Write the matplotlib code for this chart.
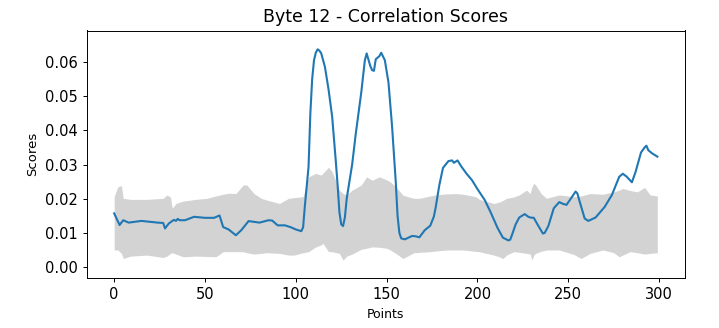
import matplotlib
matplotlib.use("Agg")
import matplotlib.pyplot as plt

# Correlation score per sample point
line_points = [0, 3, 5, 8, 15, 24, 27, 28, 30, 32, 33, 34, 35, 36, 39, 44, 50, 55, 58,
               60, 63, 67, 70, 74, 80, 85, 87, 90, 94, 97, 100, 103, 104, 105, 107, 108,
               109, 110, 111, 112, 113, 114, 116, 118, 120, 122, 123, 124, 125, 126, 127,
               128, 131, 133, 136, 138, 139, 141, 142, 143, 144, 146, 147, 149, 151, 153,
               155, 156, 157, 158, 160, 164, 166, 168, 171, 174, 176, 177, 179, 181, 184,
               186, 187, 189, 191, 194, 197, 200, 204, 207, 211, 214, 217, 218, 219, 221,
               223, 226, 228, 229, 231, 233, 236, 237, 239, 242, 245, 247, 249, 252, 254,
               255, 256, 258, 259, 261, 265, 270, 274, 278, 280, 282, 285, 287, 290, 292,
               293, 294, 296, 299]
scores = [0.0157, 0.0123, 0.0137, 0.0130, 0.0135, 0.0130, 0.0129, 0.0113, 0.0127, 0.0135,
          0.0138, 0.0135, 0.0141, 0.0137, 0.0137, 0.0147, 0.0144, 0.0144, 0.0151,
          0.0117, 0.0110, 0.0093, 0.0108, 0.01345, 0.0130, 0.0137, 0.0136, 0.0122, 0.0122,
          0.0117, 0.0110, 0.0105, 0.0116, 0.0180, 0.0293, 0.0450,
          0.0550, 0.0605, 0.0627, 0.0637, 0.0633, 0.0625, 0.0586, 0.0520, 0.0440, 0.0310,
          0.0240, 0.0160, 0.0125, 0.0120, 0.0145,
          0.0200, 0.0300, 0.0390, 0.0510, 0.0605, 0.0625, 0.0588, 0.0576, 0.0574, 0.0608,
          0.0617, 0.0627, 0.0605, 0.0540, 0.0410,
          0.0250, 0.0150, 0.0100, 0.0084, 0.0081, 0.0091, 0.0090, 0.0087, 0.0108, 0.0121,
          0.0148, 0.0175, 0.0240, 0.0290, 0.0310,
          0.0312, 0.0305, 0.0312, 0.0295, 0.0273, 0.0254, 0.0228, 0.0196, 0.0163, 0.0115,
          0.0086, 0.0078, 0.0080, 0.0094, 0.0125,
          0.0145, 0.0155, 0.0147, 0.0145, 0.0144, 0.0125, 0.0098, 0.0100, 0.0120, 0.0172,
          0.0190, 0.0185, 0.0182, 0.0205, 0.0221,
          0.0215, 0.0196, 0.0160, 0.0142, 0.0135, 0.0145, 0.0176, 0.0211, 0.0264, 0.0273,
          0.0265, 0.0248, 0.0278, 0.0335, 0.0350,
          0.0355, 0.0342, 0.0333, 0.0323]

# Spread of scores for the wrong key guesses
band_points = [0, 2, 4, 5, 9, 18, 27, 29, 31, 32, 34, 38, 45, 51, 56, 60, 63, 67, 71, 73,
               77, 81, 84, 91, 96, 99, 104, 107, 111, 114, 115, 118, 120, 124, 126, 128,
               131, 136, 139, 142, 146, 150, 152, 155, 159, 165, 168, 174, 177, 183, 188,
               192, 199, 201, 209, 212, 214, 216, 220, 223, 227, 229, 230, 231, 232, 235,
               238, 245, 253, 257, 262, 269, 275, 278, 280, 284, 288, 292, 295, 299]
band_upper = [0.0206, 0.0235, 0.0238, 0.0201, 0.0198, 0.0198, 0.0201, 0.0211, 0.0205,
              0.0172, 0.0186, 0.0193, 0.0198, 0.0201, 0.0208, 0.0213, 0.0216, 0.0215,
              0.0240, 0.0240, 0.0215, 0.0201, 0.0196, 0.0186, 0.0201, 0.0203, 0.0206,
              0.0264, 0.0274, 0.0269, 0.0275, 0.0292, 0.0279, 0.0225, 0.0215, 0.0211,
              0.0225, 0.0240, 0.0264, 0.0254, 0.0264, 0.0255, 0.0249, 0.0235, 0.0210,
              0.0201, 0.0201, 0.0208, 0.0211, 0.0214, 0.0215, 0.0213, 0.0206, 0.0198,
              0.0186, 0.0190, 0.0195, 0.0201, 0.0205, 0.0211, 0.0225, 0.0215, 0.0235,
              0.0245, 0.0240, 0.0215, 0.0201, 0.0211, 0.0206, 0.0208, 0.0215, 0.0213,
              0.0220, 0.0225, 0.0230, 0.0224, 0.0220, 0.0233, 0.0211, 0.0208]
band_lower = [0.0050, 0.0050, 0.0040, 0.0025, 0.0032, 0.0035, 0.0028, 0.0032, 0.0040,
              0.0042, 0.0038, 0.0030, 0.0032, 0.0031, 0.0030, 0.0045, 0.0045, 0.0045,
              0.0045, 0.0042, 0.0038, 0.0040, 0.0042, 0.0040, 0.0035, 0.0035, 0.0042,
              0.0045, 0.0059, 0.0065, 0.0069, 0.0045, 0.0045, 0.0040, 0.0020, 0.0032,
              0.0038, 0.0052, 0.0055, 0.0059, 0.0058, 0.0055, 0.0050, 0.0040, 0.0025,
              0.0042, 0.0043, 0.0045, 0.0047, 0.0050, 0.0050, 0.0050, 0.0046, 0.0045,
              0.0035, 0.0030, 0.0025, 0.0035, 0.0045, 0.0043, 0.0040, 0.0038, 0.0020,
              0.0035, 0.0040, 0.0046, 0.0050, 0.0050, 0.0037, 0.0025, 0.0040, 0.0050,
              0.0042, 0.0030, 0.0035, 0.0045, 0.0042, 0.0038, 0.0040, 0.0042]

fig = plt.figure(figsize=(7.19, 3.28), dpi=100)
ax = fig.add_axes([87 / 719, 1 - 278 / 328, (684.5 - 87) / 719, (278 - 30.5) / 328])

ax.fill_between(band_points, band_lower, band_upper, color="lightgray", linewidth=0)
ax.plot(line_points, scores, color="#1f77b4", linewidth=1.5)

ax.set_xlim(-14.95, 313.95)
ax.set_ylim(-0.0032, 0.0692)
ax.set_xticks([0, 50, 100, 150, 200, 250, 300])
ax.set_yticks([0.00, 0.01, 0.02, 0.03, 0.04, 0.05, 0.06])
ax.set_yticklabels(["0.00", "0.01", "0.02", "0.03", "0.04", "0.05", "0.06"])

ax.tick_params(labelsize=10.5, length=3.1, width=0.7)
for s in ax.spines.values():
    s.set_linewidth(0.7)

ax.set_title("Byte 12 - Correlation Scores", fontsize=12.5, pad=6)
ax.set_xlabel("Points", fontsize=9)
ax.set_ylabel("Scores", fontsize=9.5)

fig.savefig("out.png", dpi=100)
